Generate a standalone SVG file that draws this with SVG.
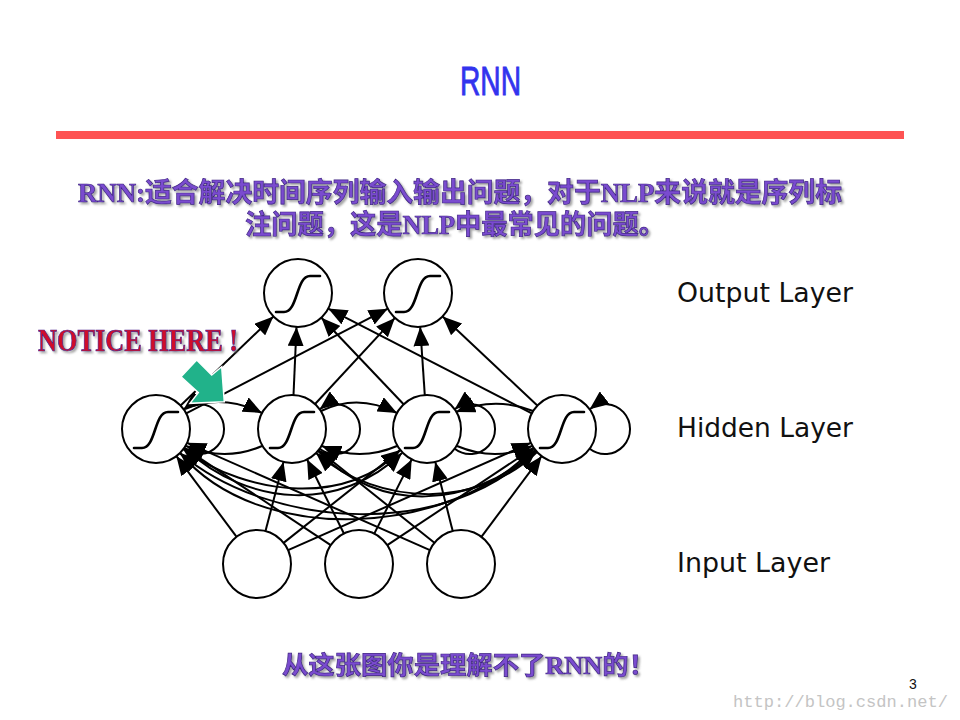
<svg xmlns="http://www.w3.org/2000/svg" xmlns:xlink="http://www.w3.org/1999/xlink" width="960" height="720" viewBox="0 0 960 720">
<style>
.node{fill:#fff;stroke:#000;stroke-width:2}
.sig{fill:none;stroke:#000;stroke-width:2.6;stroke-linecap:round}
.c{fill:none;stroke:#000;stroke-width:2;marker-end:url(#ah)}
.lbl{font-family:"DejaVu Sans",Verdana,sans-serif;font-size:26px;fill:#111}
.cn{font-family:"Liberation Serif","Noto Sans CJK SC",serif;font-weight:bold;fill:#7a4ccf;stroke:#3f2483;stroke-width:0.7;filter:url(#shadow)}
</style>
<defs>
<marker id="ah" markerUnits="userSpaceOnUse" markerWidth="20" markerHeight="16" refX="19" refY="8" orient="auto">
<path d="M0,0 L19,8 L0,16 z" fill="#000"/>
</marker>
<path id="sig" d="M-22,19 L-14,19 C0,19 -2,-17 12,-17 L22,-17"/>
<filter id="shadow" x="-5%" y="-20%" width="110%" height="150%">
<feDropShadow dx="2" dy="2" stdDeviation="1" flood-color="#666" flood-opacity="0.6"/>
</filter>
</defs>
<rect width="960" height="720" fill="#fff"/>

<g id="title">
<text x="460" y="95" font-family="Liberation Sans,Arial,sans-serif" font-size="40" fill="#3333ee" stroke="#3333ee" stroke-width="0.9" textLength="61" lengthAdjust="spacingAndGlyphs">RNN</text>
<rect x="56" y="131" width="848" height="8" fill="#fe5353"/>
</g>

<g id="caption">
<text class="cn" x="78" y="202" font-size="27" textLength="764" lengthAdjust="spacingAndGlyphs">RNN:适合解决时间序列输入输出问题，对于NLP来说就是序列标</text>
<text class="cn" x="245" y="234" font-size="27" textLength="420" lengthAdjust="spacingAndGlyphs">注问题，这是NLP中最常见的问题。</text>
</g>

<g id="connectors">
<line class="c" x1="236.6" y1="536.8" x2="176.4" y2="456.2"/>
<line class="c" x1="265.5" y1="531.1" x2="283.5" y2="461.9"/>
<line class="c" x1="283.6" y1="542.9" x2="400.4" y2="450.1"/>
<line class="c" x1="288.1" y1="550.2" x2="530.9" y2="442.8"/>
<line class="c" x1="330.7" y1="545.2" x2="184.3" y2="447.8"/>
<line class="c" x1="343.9" y1="533.5" x2="307.1" y2="459.5"/>
<line class="c" x1="374.3" y1="533.6" x2="411.7" y2="459.4"/>
<line class="c" x1="387.3" y1="545.2" x2="533.7" y2="447.8"/>
<line class="c" x1="429.9" y1="550.2" x2="187.1" y2="442.8"/>
<line class="c" x1="434.4" y1="542.8" x2="318.6" y2="450.2"/>
<line class="c" x1="452.7" y1="531.0" x2="435.3" y2="462.0"/>
<line class="c" x1="481.4" y1="536.8" x2="541.6" y2="456.2"/>
<line class="c" x1="180.6" y1="405.5" x2="273.4" y2="316.5"/>
<line class="c" x1="186.2" y1="413.3" x2="387.8" y2="308.7"/>
<line class="c" x1="293.5" y1="395.0" x2="296.5" y2="327.0"/>
<line class="c" x1="315.1" y1="404.0" x2="394.9" y2="317.9"/>
<line class="c" x1="403.6" y1="404.3" x2="321.4" y2="317.7"/>
<line class="c" x1="424.8" y1="395.1" x2="420.2" y2="327.1"/>
<line class="c" x1="531.8" y1="413.4" x2="328.2" y2="308.6"/>
<line class="c" x1="537.3" y1="405.6" x2="442.7" y2="316.4"/>
<path class="c" d="M183.7,448.8 A25,25 0 1,0 183.7,409.3"/>
<path class="c" d="M319.7,448.8 A25,25 0 1,0 319.7,409.3"/>
<path class="c" d="M454.7,448.8 A25,25 0 1,0 454.7,409.3"/>
<path class="c" d="M589.7,448.8 A25,25 0 1,0 589.7,409.3"/>
<path class="c" d="M185,409 Q222,393 262,413"/>
<path class="c" d="M321,411 Q358,393 397,413"/>
<path class="c" d="M533,411 Q495,396 456,412"/>
<path class="c" d="M262,446 Q225,462 186,446"/>
<path class="c" d="M397,446 Q360,462 322,446"/>
<path class="c" d="M457,446 Q495,462 532,446"/>
<path class="c" d="M400,450 C350,505 250,498 183,449"/>
<path class="c" d="M535,450 C450,540 270,530 180,453"/>
<path class="c" d="M537,452 C480,508 380,508 316,453"/>
<path class="c" d="M184,448 C250,508 340,512 402,453"/>
<path class="c" d="M180,453 C260,548 450,536 534,448"/>
<path class="c" d="M318,451 C380,515 470,508 536,451"/>
</g>

<g id="o1"><circle class="node" cx="298" cy="293" r="34"/><use href="#sig" class="sig" x="298" y="293"/></g>
<g id="o2"><circle class="node" cx="418" cy="293" r="34"/><use href="#sig" class="sig" x="418" y="293"/></g>
<g id="h1"><circle class="node" cx="156" cy="429" r="34"/><use href="#sig" class="sig" x="156" y="429"/></g>
<g id="h2"><circle class="node" cx="292" cy="429" r="34"/><use href="#sig" class="sig" x="292" y="429"/></g>
<g id="h3"><circle class="node" cx="427" cy="429" r="34"/><use href="#sig" class="sig" x="427" y="429"/></g>
<g id="h4"><circle class="node" cx="562" cy="429" r="34"/><use href="#sig" class="sig" x="562" y="429"/></g>
<g id="i1"><circle class="node" cx="257" cy="564" r="34"/></g>
<g id="i2"><circle class="node" cx="359" cy="564" r="34"/></g>
<g id="i3"><circle class="node" cx="461" cy="564" r="34"/></g>

<g id="notice">
<text x="38" y="351" font-family="Liberation Serif,'Times New Roman',serif" font-weight="bold" font-size="31" fill="#d0102a" stroke="#4a2090" stroke-width="0.7" filter="url(#shadow)" textLength="200" lengthAdjust="spacingAndGlyphs">NOTICE HERE !</text>
<polygon points="196.7,360 211.7,375 221.7,366.7 224.3,401.7 190,403.3 198.3,392.7 181,376.7" fill="#21b28a" stroke="#fff" stroke-width="1.5"/>
</g>

<g id="layer-labels">
<text class="lbl" x="677" y="302" textLength="176" lengthAdjust="spacingAndGlyphs">Output Layer</text>
<text class="lbl" x="677" y="437" textLength="176" lengthAdjust="spacingAndGlyphs">Hidden Layer</text>
<text class="lbl" x="677" y="572" textLength="153" lengthAdjust="spacingAndGlyphs">Input Layer</text>
</g>

<g id="footer">
<text class="cn" x="282" y="674" font-size="25" textLength="373" lengthAdjust="spacingAndGlyphs">从这张图你是理解不了RNN的！</text>
<text x="909" y="689" font-family="Liberation Sans,Arial,sans-serif" font-size="14" fill="#111">3</text>
<text x="733" y="707" font-family="Liberation Mono,monospace" font-size="16" fill="#c4c4c4" textLength="215" lengthAdjust="spacingAndGlyphs">http://blog.csdn.net/</text>
</g>
</svg>
